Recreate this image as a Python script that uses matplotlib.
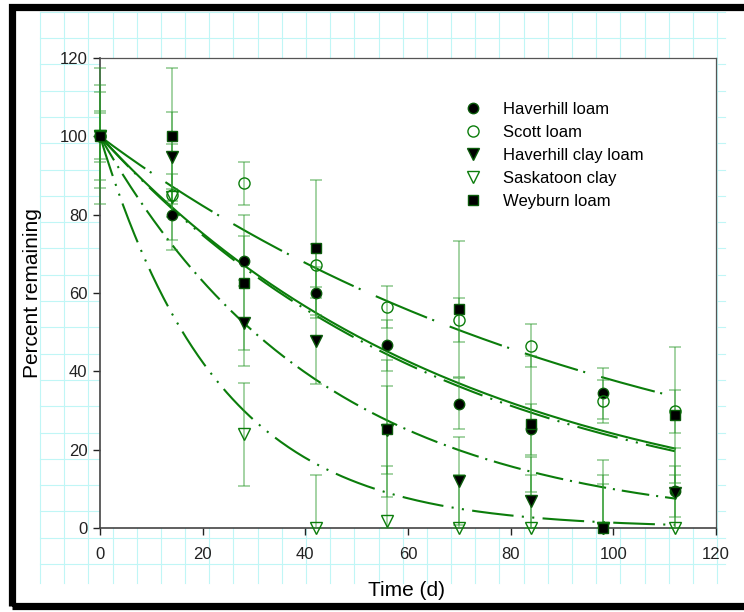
import numpy as np
import matplotlib
matplotlib.use("Agg")
import matplotlib.pyplot as plt
from matplotlib.lines import Line2D
from matplotlib.patches import Rectangle

plt.rcParams['font.family'] = ['Liberation Sans', 'DejaVu Sans']
plt.rcParams['lines.scale_dashes'] = False

# sampling days
days = [0, 14, 28, 42, 56, 70, 84, 98, 112]

# percent remaining
haverhill_loam = [100, 80.0, 68.2, 60.1, 46.7, 31.7, 25.2, 34.4, 9.4]
scott_loam = [100, 85.0, 88.0, 67.1, 56.4, 53.1, 46.5, 32.4, 29.8]
haverhill_clay_loam = [100, 94.8, 52.4, 47.7, 25.0, 12.0, 6.9, 0.0, 9.0]
saskatoon_clay = [100, 84.5, 23.9, 0.0, 1.8, 0.0, 0.0, 0.0, 0.0]
weyburn_loam = [100, 100.0, 62.6, 71.6, 25.4, 56.0, 26.5, 0.0, 28.9]

# error bar half widths
haverhill_loam_err = [6.5, 6.5, 6.4, 6.5, 6.5, 6.5, 6.5, 6.5, 6.5]
scott_loam_err = [5.9, 5.5, 5.5, 5.5, 5.4, 5.5, 5.5, 5.5, 5.5]
haverhill_clay_loam_err = [11.2, 11.4, 11.0, 11.0, 11.3, 11.3, 11.2, 11.3, 11.3]
saskatoon_clay_err = [13.1, 13.5, 13.2, 13.5, 14.0, 13.5, 13.5, 13.5, 13.5]
weyburn_loam_err = [17.4, 17.4, 17.2, 17.3, 17.4, 17.4, 17.4, 17.4, 17.4]

# first order decay rates of the fitted curves (1/d)
decay_rates = [0.01424, 0.00976, 0.0231, 0.043, 0.01455]

names = ['Haverhill loam', 'Scott loam', 'Haverhill clay loam',
         'Saskatoon clay', 'Weyburn loam']

W, H = 744, 612
fig = plt.figure(figsize=(W / 100, H / 100), dpi=100)
fig.patch.set_facecolor('white')

# graph paper background
gcol = '#c0f6f6'
for i in range(29):
    x = (40 + 24.18 * i) / W
    fig.add_artist(Line2D([x, x], [1 - 12 / H, 1 - 583 / H], color=gcol, lw=0.8, zorder=0))
for j in range(22):
    y = 1 - (11.7 + 26.3 * j) / H
    fig.add_artist(Line2D([40 / W, 725 / W], [y, y], color=gcol, lw=0.8, zorder=0))

# thick black frame, open on the right
fig.add_artist(Rectangle((11.5 / W, 1 - 606 / H), 900 / W, (606 - 7) / H,
                         fill=False, ec='black', lw=5.2, zorder=1))

ax = fig.add_axes([100 / W, 1 - 528 / H, 616 / W, 470 / H])
ax.set_zorder(2)
ax.set_facecolor('white')

green = '#0b7d0b'
ebar = '#2e9a2e'
t = np.linspace(0, 112, 300)

styles = [
    dict(ls='-'),
    dict(dashes=(40, 4, 1.5, 12)),
    dict(dashes=(20, 5, 1.5, 5)),
    dict(dashes=(30, 6, 1.5, 6, 1.5, 6)),
    dict(dashes=(30, 6, 1.5, 6, 1.5, 6)),
]
for k, st in zip(decay_rates, styles):
    ax.plot(t, 100 * np.exp(-k * t), color=green, lw=1.5, zorder=3, **st)

series = [haverhill_loam, scott_loam, haverhill_clay_loam, saskatoon_clay, weyburn_loam]
errors = [haverhill_loam_err, scott_loam_err, haverhill_clay_loam_err,
          saskatoon_clay_err, weyburn_loam_err]
markers = [
    dict(marker='o', ms=7.5, mfc='black', mec='#0a5a0a', mew=1),
    dict(marker='o', ms=8, mfc='none', mec=green, mew=1),
    dict(marker='v', ms=8, mfc='black', mec='#0a5a0a', mew=1),
    dict(marker='v', ms=8.5, mfc='none', mec=green, mew=1),
    dict(marker='s', ms=7, mfc='black', mec='#0a5a0a', mew=1),
]

for vals, err, mk, name in zip(series, errors, markers, names):
    v = np.array(vals)
    e = np.array(err)
    lower = np.minimum(e, v)
    ax.errorbar(days, v, yerr=[lower, e], fmt='none', ecolor=ebar, alpha=0.55,
                elinewidth=1.1, capsize=4, capthick=1.1, zorder=4, clip_on=False)
    ax.plot(days, v, ls='none', label=name, zorder=5, clip_on=False, **mk)

ax.set_xlim(0, 120)
ax.set_ylim(0, 120)
ax.set_xticks(range(0, 121, 20))
ax.set_yticks(range(0, 121, 20))
ax.tick_params(axis='both', direction='out', labelsize=12, colors='#222222')
ax.tick_params(axis='y', length=5, width=1, pad=4)
ax.tick_params(axis='x', length=5, width=1, pad=9)
for s in ['left', 'bottom']:
    ax.spines[s].set_color('#444444')
    ax.spines[s].set_linewidth(1.2)
for s in ['top', 'right']:
    ax.spines[s].set_color('#555555')
    ax.spines[s].set_linewidth(0.9)

ax.set_xlabel('Time (d)', fontsize=15)
ax.set_ylabel('Percent remaining', fontsize=15)
ax.xaxis.set_label_coords(0.498, -0.112)
ax.yaxis.set_label_coords(-0.094, 0.5)

ax.legend(loc='upper left', bbox_to_anchor=(0.5925, 0.906), frameon=False,
          fontsize=12, handlelength=1.0, handletextpad=1.3, labelspacing=0.48,
          borderpad=0, borderaxespad=0, numpoints=1)

fig.savefig('out.png', dpi=100, facecolor=fig.get_facecolor())
